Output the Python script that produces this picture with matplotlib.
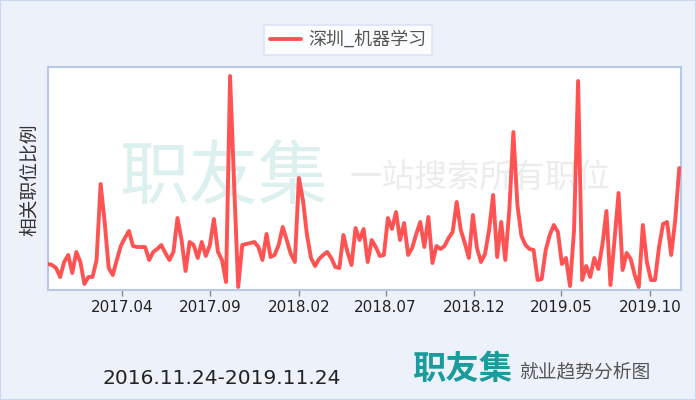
import matplotlib
matplotlib.use("Agg")
import matplotlib.pyplot as plt
import pandas as pd
from matplotlib.patches import Rectangle

plt.rcParams['font.family'] = ['Noto Sans CJK SC', 'DejaVu Sans']

# ---- data ----
series_name = "深圳_机器学习"
start_date = "2016-11-24"
end_date = "2019-11-24"
values = [26, 25, 22, 13, 28, 35, 17, 38, 28, 6,
          13, 13, 30, 106, 68, 22, 15, 30, 44, 52,
          59, 44, 43, 43, 43, 30, 38, 41, 45, 37,
          30, 38, 72, 50, 19, 48, 45, 32, 48, 34,
          45, 71, 38, 30, 8, 214, 105, 3, 45, 46,
          47, 48, 43, 30, 56, 33, 35, 45, 63, 50,
          36, 28, 112, 90, 55, 32, 24, 31, 35, 38,
          32, 23, 22, 55, 38, 25, 62, 50, 61, 28,
          50, 43, 34, 35, 72, 61, 78, 50, 67, 35,
          42, 56, 68, 43, 73, 27, 44, 41, 44, 52,
          58, 88, 60, 47, 32, 75, 42, 28, 36, 60,
          95, 33, 68, 30, 80, 158, 85, 54, 45, 41,
          40, 10, 11, 40, 55, 65, 58, 26, 32, 4,
          60, 209, 10, 24, 13, 32, 21, 45, 79, 5,
          50, 97, 20, 37, 31, 15, 3, 65, 28, 10,
          10, 43, 66, 68, 35, 70, 122]
tick_dates = ["2017-04-01", "2017-09-01", "2018-02-01", "2018-07-01",
              "2018-12-01", "2019-05-01", "2019-10-01"]
tick_labels = ["2017.04", "2017.09", "2018.02", "2018.07",
               "2018.12", "2019.05", "2019.10"]
date_range_text = "2016.11.24-2019.11.24"
ylabel = "相关职位比例"

dates = pd.date_range(start_date, periods=len(values), freq="7D")

bg = "#EDF1FA"
fig = plt.figure(figsize=(6.96, 4.0), dpi=100, facecolor=bg)
fig.patches.append(Rectangle((0, 0), 1, 1, transform=fig.transFigure,
                             fill=False, edgecolor="#C9D7EF", linewidth=1.5))

ax = fig.add_axes([48 / 696, 110 / 400, 633 / 696, 223 / 400])
ax.set_facecolor("white")
ax.plot(dates, values, color="#FF5252", linewidth=2.8, solid_joinstyle="round",
        solid_capstyle="round", zorder=3, label=series_name)
ax.set_xlim(pd.Timestamp(start_date), pd.Timestamp(end_date))
ax.set_ylim(0, 223)
ax.set_yticks([])
ax.set_xticks(pd.to_datetime(tick_dates))
ax.set_xticklabels(tick_labels, fontsize=11, color="#222222",
                   family=['DejaVu Sans'])
ax.tick_params(axis='x', length=4, width=1, color="#888888", pad=3)
for s in ax.spines.values():
    s.set_color("#B7C9E6")
    s.set_linewidth(1.5)

fig.text(29 / 696, 1 - 180 / 400, ylabel, fontsize=13.5, color="#333333",
         rotation=90, ha="center", va="center")

# watermark
ax.text((224 - 48) / 633, (290 - 178) / 223, "职友集", transform=ax.transAxes,
        fontsize=50, color="#DCF0F0", ha="center", va="center", zorder=1)
ax.text((480 - 48) / 633, (290 - 178) / 223, "一站搜索所有职位",
        transform=ax.transAxes, fontsize=23.5, color="#ECECEC",
        ha="center", va="center", zorder=1)

# legend
leg = fig.legend(loc="center", bbox_to_anchor=(348 / 696, 1 - 40 / 400),
                 frameon=True, fontsize=13, handlelength=1.7,
                 borderpad=0.35, handletextpad=0.4)
leg.get_frame().set_edgecolor("#D5E0F2")
leg.get_frame().set_linewidth(1.2)
leg.get_frame().set_boxstyle("square", pad=0)
for t in leg.get_texts():
    t.set_color("#555555")

# bottom texts
fig.text(222 / 696, 1 - 378 / 400, date_range_text, fontsize=14.5,
         color="#222222", ha="center", va="center", family=['DejaVu Sans'])
fig.text(462 / 696, 1 - 370 / 400, "职友集", fontsize=24, color="#1B9B9B",
         ha="center", va="center", fontweight="bold")
fig.text(585 / 696, 1 - 372 / 400, "就业趋势分析图", fontsize=13.5,
         color="#555555", ha="center", va="center")

fig.savefig("out.png", dpi=100, facecolor=bg)
